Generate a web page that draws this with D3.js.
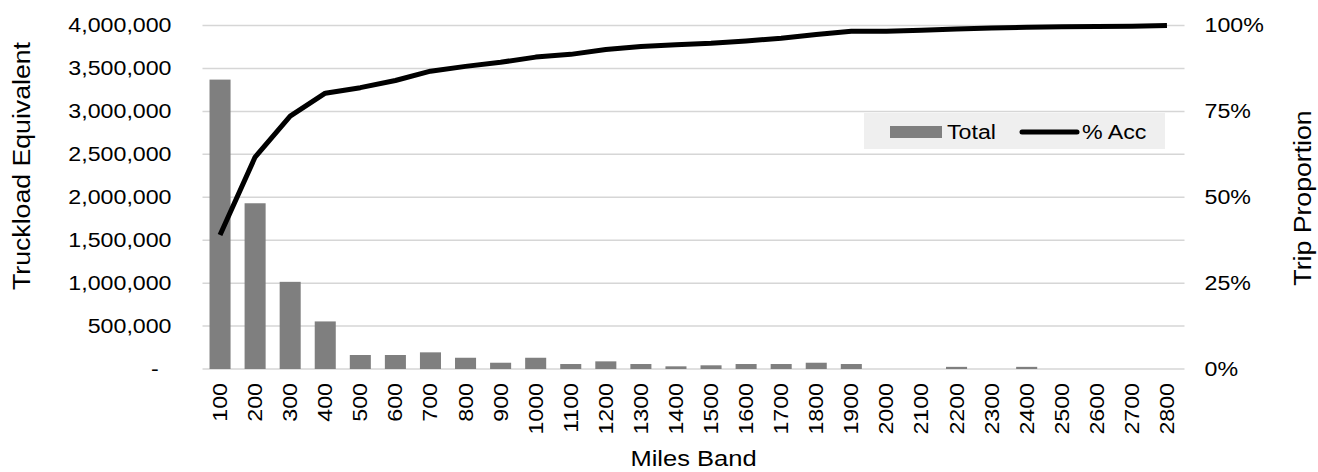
<!DOCTYPE html>
<html>
<head>
<meta charset="utf-8">
<script src="https://cdn.jsdelivr.net/npm/d3@7"></script>
<style>
  html, body { margin: 0; padding: 0; background: #ffffff; }
  svg { display: block; font-family: "Liberation Sans", Arial, sans-serif; }
</style>
</head>
<body>
<svg id="chart" width="1318" height="472"></svg>
<script>
// ---- Data ----
const categories = ["100","200","300","400","500","600","700","800","900","1000","1100","1200","1300","1400","1500","1600","1700","1800","1900","2000","2100","2200","2300","2400","2500","2600","2700","2800"];
const totals = [3370000, 1930000, 1015000, 554000, 163000, 163000, 194000, 131000, 73000, 131000, 58000, 89000, 58000, 31000, 43000, 58000, 58000, 73000, 58000, 0, 0, 25000, 0, 25000, 0, 0, 0, 0];
const pctAcc = [0.39, 0.617, 0.736, 0.803, 0.819, 0.84, 0.867, 0.881, 0.893, 0.908, 0.916, 0.93, 0.939, 0.944, 0.948, 0.955, 0.963, 0.974, 0.983, 0.983, 0.986, 0.99, 0.993, 0.995, 0.996, 0.997, 0.998, 1.0];
const leftTicks = [0, 500000, 1000000, 1500000, 2000000, 2500000, 3000000, 3500000, 4000000];
const rightTicks = [0, 0.25, 0.5, 0.75, 1.0];
const seriesNames = ["Total", "% Acc"];

// ---- Layout ----
const W = 1318, H = 472;
const SX = 1.16; // horizontal glyph stretch to match the reference's wide lettering
const margin = { top: 25.5, right: 133.5, bottom: 103, left: 202.5 };
const svg = d3.select("#chart");
const x = d3.scaleBand().domain(categories).range([margin.left, W - margin.right]).paddingInner(0.4).paddingOuter(0.2);
const yL = d3.scaleLinear().domain([0, 4000000]).range([H - margin.bottom, margin.top]);
const yR = d3.scaleLinear().domain([0, 1]).range([H - margin.bottom, margin.top]);

// gridlines (every 500,000)
svg.append("g").selectAll("line").data(leftTicks).join("line")
  .attr("x1", margin.left).attr("x2", W - margin.right)
  .attr("y1", d => yL(d)).attr("y2", d => yL(d))
  .attr("stroke", "#d6d6d6").attr("stroke-width", 1.5);

// bars
svg.append("g").selectAll("rect").data(totals).join("rect")
  .attr("x", (d, i) => x(categories[i]))
  .attr("width", x.bandwidth())
  .attr("y", d => yL(d))
  .attr("height", d => yL(0) - yL(d))
  .attr("fill", "#7f7f7f");

// line
const line = d3.line()
  .x((d, i) => x(categories[i]) + x.bandwidth() / 2)
  .y(d => yR(d));
svg.append("path").datum(pctAcc)
  .attr("d", line)
  .attr("fill", "none").attr("stroke", "#000").attr("stroke-width", 5)
  .attr("stroke-linejoin", "round");

const FF = "Liberation Sans, Arial, sans-serif";

// left axis
const fmt = d3.format(",");
const gL = svg.append("g").attr("transform", `translate(${margin.left - 31},0)`)
  .call(d3.axisLeft(yL).tickValues(leftTicks).tickSize(0).tickPadding(0)
    .tickFormat(d => d === 0 ? "-" : fmt(d)));
gL.select(".domain").remove();
gL.selectAll("text").attr("font-size", 20).attr("fill", "#000").attr("font-family", FF)
  .attr("x", 0).attr("transform", `scale(${SX},1)`);
gL.selectAll(".tick").filter(d => d === 0).select("text").attr("x", -11);

// right axis
const gR = svg.append("g").attr("transform", `translate(${W - margin.right + 20},0)`)
  .call(d3.axisRight(yR).tickValues(rightTicks).tickSize(0).tickPadding(0)
    .tickFormat(d3.format(".0%")));
gR.select(".domain").remove();
gR.selectAll("text").attr("font-size", 20).attr("fill", "#000").attr("font-family", FF)
  .attr("x", 0).attr("transform", `scale(${SX},1)`);

// bottom axis
const gB = svg.append("g").attr("transform", `translate(0,${H - margin.bottom})`)
  .call(d3.axisBottom(x).tickSize(0).tickPadding(0));
gB.select(".domain").remove();
gB.selectAll("text")
  .attr("font-size", 20).attr("fill", "#000").attr("font-family", FF)
  .attr("transform", `rotate(-90) scale(${SX},1)`)
  .attr("text-anchor", "end")
  .attr("x", -14 / SX).attr("y", 0).attr("dy", "0.35em");

// axis titles
svg.append("text").attr("transform", `translate(30,166) rotate(-90) scale(${SX},1)`)
  .attr("text-anchor", "middle").attr("font-size", 23).attr("fill", "#000")
  .text("Truckload Equivalent");
svg.append("text").attr("transform", `translate(1311,198) rotate(-90) scale(${SX},1)`)
  .attr("text-anchor", "middle").attr("font-size", 23).attr("fill", "#000")
  .text("Trip Proportion");
svg.append("text").attr("transform", `translate(${(margin.left + W - margin.right) / 2},466) scale(${SX},1)`)
  .attr("text-anchor", "middle").attr("font-size", 22).attr("fill", "#000")
  .text("Miles Band");

// legend
const lg = svg.append("g");
lg.append("rect").attr("x", 864).attr("y", 113).attr("width", 301).attr("height", 36).attr("fill", "#efefef");
lg.append("rect").attr("x", 890).attr("y", 126).attr("width", 52).attr("height", 12).attr("fill", "#7f7f7f");
lg.append("text").attr("transform", `translate(947,139) scale(${SX},1)`).attr("font-size", 20).attr("fill", "#000").text(seriesNames[0]);
lg.append("line").attr("x1", 1022).attr("x2", 1077).attr("y1", 132).attr("y2", 132)
  .attr("stroke", "#000").attr("stroke-width", 5).attr("stroke-linecap", "round");
lg.append("text").attr("transform", `translate(1082,139) scale(${SX},1)`).attr("font-size", 20).attr("fill", "#000").text(seriesNames[1]);
</script>
</body>
</html>
